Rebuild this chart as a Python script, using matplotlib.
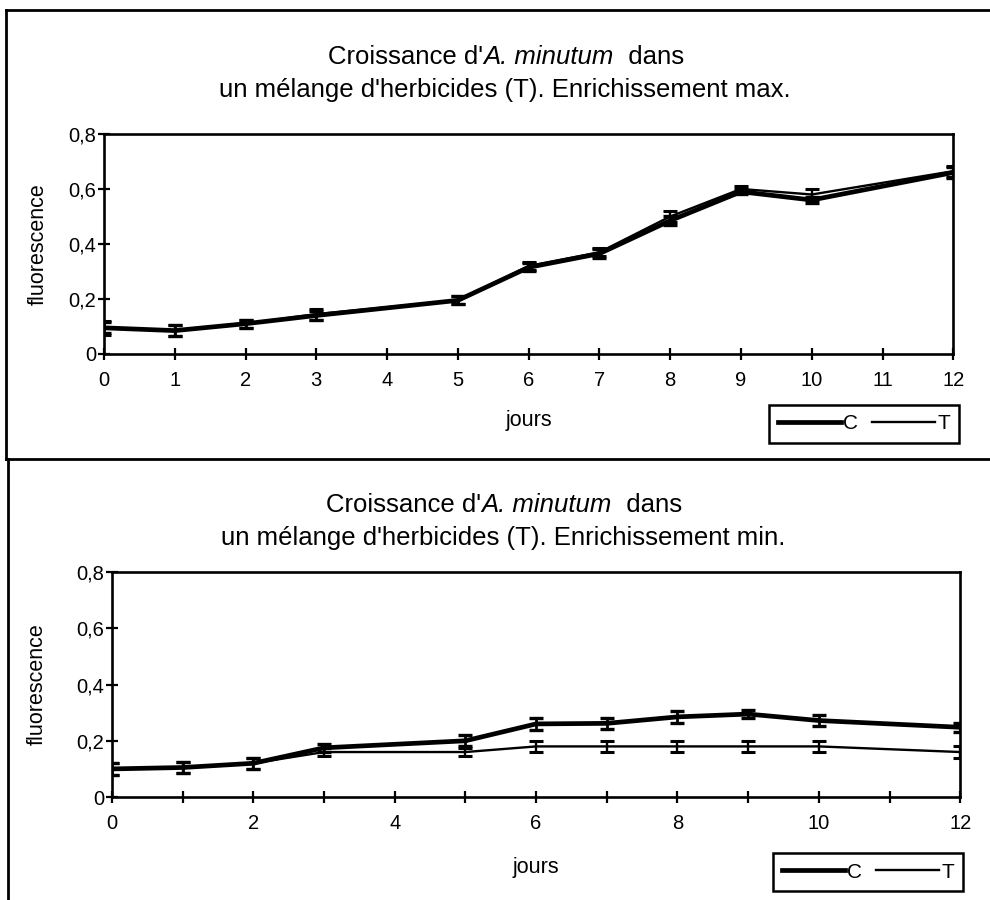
import matplotlib
matplotlib.use("Agg")
import matplotlib.pyplot as plt
from matplotlib.lines import Line2D
from matplotlib.ticker import FuncFormatter, MultipleLocator

plt.rcParams['font.family'] = ['Liberation Sans', 'DejaVu Sans']

# days of measurement
jours = [0, 1, 2, 3, 5, 6, 7, 8, 9, 10, 12]

# enrichissement max
max_c = [0.095, 0.085, 0.11, 0.14, 0.195, 0.315, 0.365, 0.485, 0.59, 0.56, 0.66]
max_c_err = [0.02, 0.02, 0.015, 0.015, 0.015, 0.015, 0.015, 0.015, 0.01, 0.01, 0.02]
max_t = [0.095, 0.085, 0.11, 0.145, 0.195, 0.32, 0.37, 0.50, 0.60, 0.58, 0.665]
max_t_err = [0.025, 0.02, 0.015, 0.02, 0.015, 0.015, 0.015, 0.02, 0.01, 0.02, 0.02]

# enrichissement min
min_c = [0.10, 0.105, 0.12, 0.175, 0.20, 0.26, 0.262, 0.285, 0.295, 0.272, 0.248]
min_c_err = [0.02, 0.02, 0.02, 0.015, 0.02, 0.02, 0.02, 0.02, 0.015, 0.02, 0.015]
min_t = [0.10, 0.105, 0.12, 0.16, 0.16, 0.18, 0.18, 0.18, 0.18, 0.18, 0.16]
min_t_err = [0.02, 0.02, 0.02, 0.015, 0.015, 0.02, 0.02, 0.02, 0.02, 0.02, 0.02]

yticks = [0, 0.2, 0.4, 0.6, 0.8]

# first title line: plain / italic / plain
title1_parts = ["Croissance d'", "A. minutum", "  dans"]
title2_max = "un mélange d'herbicides (T). Enrichissement max."
title2_min = "un mélange d'herbicides (T). Enrichissement min."


def comma(v, pos):
    if abs(v) < 1e-9:
        return "0"
    return f"{v:.1f}".replace(".", ",")


def draw_panel(ax, c, c_err, t, t_err, step, xlab_y, ylab_x):
    ax.errorbar(jours, t, yerr=t_err, color='black', lw=1.7,
                elinewidth=1.7, capsize=5, capthick=2.2)
    ax.errorbar(jours, c, yerr=c_err, color='black', lw=3.4,
                elinewidth=2, capsize=5, capthick=2.4)
    ax.set_xlim(0, 12)
    ax.set_ylim(0, 0.8)
    ax.set_yticks(yticks)
    ax.yaxis.set_major_formatter(FuncFormatter(comma))
    ax.xaxis.set_major_locator(MultipleLocator(step))
    ax.xaxis.set_minor_locator(MultipleLocator(1))
    ax.tick_params(axis='both', which='both', direction='inout',
                   length=9, width=1.6, labelsize=14.5)
    ax.tick_params(axis='x', pad=8)
    ax.tick_params(axis='y', pad=1)
    for s in ax.spines.values():
        s.set_linewidth(1.9)
    ax.set_xlabel("jours", fontsize=15.5)
    ax.xaxis.set_label_coords(0.5, xlab_y)
    ax.set_ylabel("fluorescence", fontsize=15.5)
    ax.yaxis.set_label_coords(ylab_x, 0.5)


def mixed_title(fig, cx, cy, parts, size):
    styles = ['normal', 'italic', 'normal']
    texts = [fig.text(0, cy, p, ha='left', va='center', fontsize=size, style=s)
             for p, s in zip(parts, styles)]
    r = fig.canvas.get_renderer()
    widths = [t.get_window_extent(r).width / fig.bbox.width for t in texts]
    x = cx - sum(widths) / 2
    for t, w in zip(texts, widths):
        t.set_x(x)
        x += w


fig = plt.figure(figsize=(9.9, 9.0), dpi=100)

ax1 = fig.add_axes([0.105, 0.6067, 0.858, 0.2444])
draw_panel(ax1, max_c, max_c_err, max_t, max_t_err, 1, -0.255, -0.065)
ax2 = fig.add_axes([0.113, 0.1144, 0.857, 0.25])
draw_panel(ax2, min_c, min_c_err, min_t, min_t_err, 2, -0.265, -0.075)

mixed_title(fig, 0.511, 1 - 57 / 900, title1_parts, 18.5)
fig.text(0.51, 1 - 90 / 900, title2_max, ha='center', va='center', fontsize=18.5)
mixed_title(fig, 0.509, 1 - 505 / 900, title1_parts, 18.5)
fig.text(0.508, 1 - 538 / 900, title2_min, ha='center', va='center', fontsize=18.5)

handles = [Line2D([], [], color='black', lw=3.4),
           Line2D([], [], color='black', lw=1.7)]
for cx, cy in [(864 / 990, 1 - 424 / 900), (868 / 990, 1 - 872 / 900)]:
    leg = fig.legend(handles, ["C", "T"], loc='center', bbox_to_anchor=(cx, cy),
                     ncol=2, fontsize=15, frameon=True, fancybox=False,
                     edgecolor='black', framealpha=1, handlelength=3.0,
                     handletextpad=0.1, columnspacing=0.7, borderpad=0.45,
                     borderaxespad=0)
    leg.get_frame().set_linewidth(1.8)

# panel borders
bk = dict(color='black', lw=2, transform=fig.transFigure)
fig.add_artist(Line2D([6 / 990, 6 / 990], [1 - 10 / 900, 1 - 459 / 900], **bk))
fig.add_artist(Line2D([6 / 990, 1], [1 - 10 / 900, 1 - 10 / 900], **bk))
fig.add_artist(Line2D([6 / 990, 1], [1 - 459 / 900, 1 - 459 / 900], **bk))
fig.add_artist(Line2D([8 / 990, 8 / 990], [1 - 459 / 900, 0], **bk))

fig.savefig("out.png", dpi=100)
